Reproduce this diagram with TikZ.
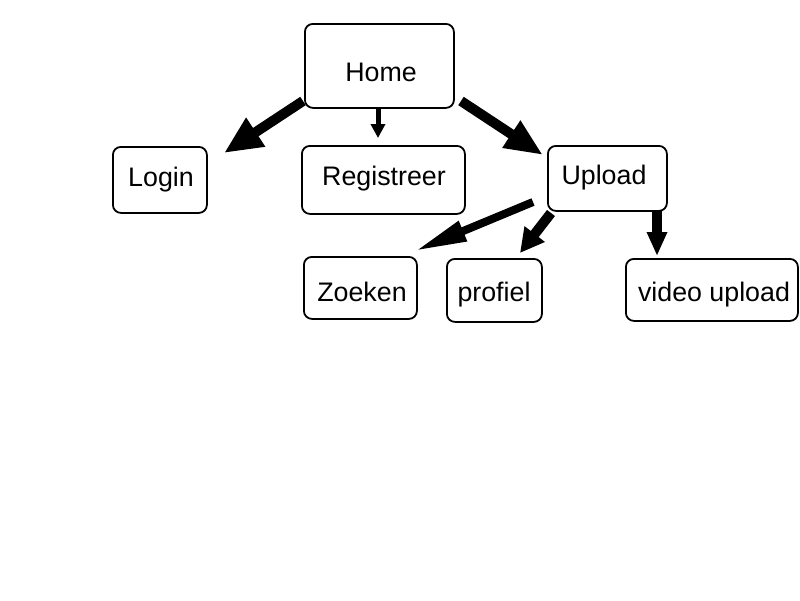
\documentclass[tikz,border=0pt]{standalone}
\usepackage{fontspec}
\setmainfont{Liberation Sans}
\usetikzlibrary{arrows.meta}
\begin{document}
\begin{tikzpicture}[x=1pt,y=-1pt,
  box/.style={draw=black,line width=1.8pt,rounded corners=8pt,inner sep=0pt,anchor=north west},
  lbl/.style={inner sep=0pt,font=\fontsize{26.8}{32}\selectfont},
  blk/.style={line width=#1,line cap=butt}]
\useasboundingbox[fill=white] (0,0) rectangle (800,600);
% boxes
\node[box,minimum width=149pt,minimum height=84pt] (home) at (304,23) {};
\node[box,minimum width=94pt,minimum height=66pt] (login) at (112,146) {};
\node[box,minimum width=163pt,minimum height=68pt] (reg) at (301,145) {};
\node[box,minimum width=119pt,minimum height=65pt] (upload) at (547,145) {};
\node[box,minimum width=113pt,minimum height=62pt] (zoeken) at (303,256) {};
\node[box,minimum width=95pt,minimum height=63pt] (profiel) at (446,258) {};
\node[box,minimum width=172pt,minimum height=62pt] (video) at (625,258) {};
% labels
\node[lbl] (thome) at (381,72) {Home};
\node[lbl] (tlogin) at (161,180) {Login};
\node[lbl] (treg) at (384,179) {Registreer};
\node[lbl] (tupload) at (604,178) {Upload};
\node[lbl] (tzoeken) at (362,292) {Zoeken};
\node[lbl] (tprofiel) at (494,295) {profiel};
\node[lbl] (tvideo) at (714,295) {video upload};
% arrow ends
\coordinate (a1s) at (303,101); \coordinate (a1e) at (224,153);
\coordinate (a2s) at (378,108); \coordinate (a2e) at (378,138);
\coordinate (a3s) at (461,101); \coordinate (a3e) at (543,155);
\coordinate (a4s) at (533,202); \coordinate (a4e) at (415,251);
\coordinate (a5s) at (551,213); \coordinate (a5e) at (520,253);
\coordinate (a6s) at (657,210); \coordinate (a6e) at (657,256);
% arrows
\draw[blk=10pt,-{Triangle[length=38pt,width=32pt]}] (a1s) -- (a1e);
\draw[blk=5pt,-{Triangle[length=14pt,width=14pt]}] (a2s) -- (a2e);
\draw[blk=10pt,-{Triangle[length=38pt,width=30pt]}] (a3s) -- (a3e);
\draw[blk=8pt,-{Triangle[length=52pt,width=20pt]}] (a4s) -- (a4e);
\draw[blk=10pt,-{Triangle[length=24pt,width=24pt]}] (a5s) -- (a5e);
\draw[blk=10pt,-{Triangle[length=24pt,width=19pt]}] (a6s) -- (a6e);
\end{tikzpicture}
\end{document}
